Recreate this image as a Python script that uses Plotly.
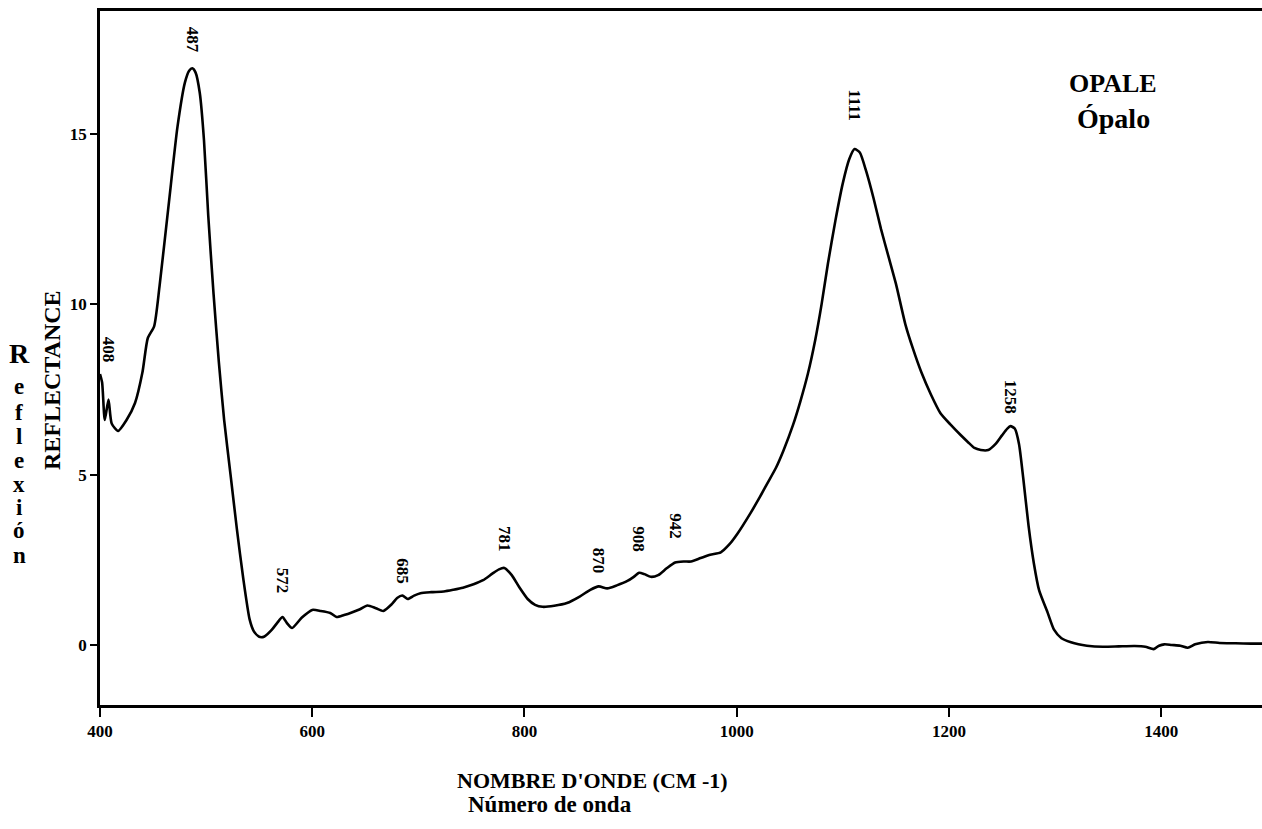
import plotly.graph_objects as go

# Reflectance spectrum of opal (wavenumber in cm-1, reflectance in %)
wavenumber = [
    400, 402, 404.5, 408, 411, 417, 425, 433, 440, 445, 451, 456, 465, 473, 480,
    484, 487, 490, 494, 498, 502, 507, 512, 517, 523, 529, 535, 541, 545, 550,
    555, 562, 567, 572, 576, 581, 590, 600, 608, 617, 623, 630, 636, 645, 652,
    660, 667, 675, 680, 685, 690, 696, 702, 712, 724, 733, 742, 752, 761, 770,
    776, 781, 788, 795, 803, 810, 817, 828, 840, 852, 862, 870, 878, 887, 897,
    903, 908, 913, 919, 926, 934, 942, 950, 957, 966, 975, 985, 993, 1001, 1013,
    1022, 1029, 1037, 1044, 1053, 1060, 1067, 1074, 1080, 1086, 1093, 1100, 1106,
    1111, 1116, 1122, 1129, 1136, 1143, 1150, 1159, 1166, 1174, 1183, 1192, 1202,
    1211, 1218, 1224, 1230, 1237, 1244, 1250, 1255, 1258, 1262, 1266, 1270, 1275,
    1280, 1285, 1293, 1299, 1306, 1315, 1322, 1330, 1345, 1360, 1375, 1385, 1393,
    1398, 1403, 1410, 1418, 1425, 1432, 1444, 1455, 1470, 1485, 1495,
]
reflectance = [
    7.95, 7.7, 6.6, 7.2, 6.5, 6.28, 6.6, 7.1, 8.0, 9.0, 9.35, 10.5, 13.0, 15.2, 16.5,
    16.85, 16.92, 16.8, 16.2, 14.8, 12.6, 10.3, 8.3, 6.6, 5.0, 3.4, 1.95, 0.75, 0.4, 0.24,
    0.25, 0.45, 0.65, 0.82, 0.65, 0.5, 0.8, 1.03, 1.0, 0.94, 0.82, 0.88, 0.94, 1.05, 1.16,
    1.08, 1.0, 1.2, 1.38, 1.45, 1.35, 1.45, 1.52, 1.55, 1.57, 1.62, 1.68, 1.78, 1.9, 2.1,
    2.22, 2.26, 2.05, 1.7, 1.35, 1.18, 1.12, 1.15, 1.23, 1.42, 1.62, 1.72, 1.66, 1.75, 1.88,
    2.0, 2.12, 2.08, 2.0, 2.05, 2.25, 2.42, 2.45, 2.45, 2.55, 2.65, 2.72, 2.95, 3.28, 3.87,
    4.35, 4.75, 5.2, 5.7, 6.45, 7.15, 7.95, 8.95, 10.0, 11.2, 12.45, 13.55, 14.25,
    14.55, 14.45, 13.9, 13.1, 12.2, 11.4, 10.6, 9.4, 8.7, 8.0, 7.35, 6.8, 6.45,
    6.16, 5.95, 5.78, 5.72, 5.72, 5.9, 6.15, 6.35, 6.42, 6.35, 5.9, 4.9, 3.5,
    2.4, 1.6, 0.95, 0.45, 0.2, 0.08, 0.02, -0.02, -0.05, -0.04, -0.03, -0.05, -0.12,
    -0.02, 0.02, 0.0, -0.02, -0.08, 0.02, 0.09, 0.06, 0.05, 0.04, 0.04,
]

# Band positions marked above the curve and the height of each label's centre
peak_labels = ["408", "487", "572", "685", "781", "870", "908", "942", "1111", "1258"]
peak_positions = [408, 487, 572, 685, 781, 870, 908, 942, 1111, 1258]
label_heights = [8.65, 17.75, 1.9, 2.15, 3.1, 2.48, 3.1, 3.48, 15.84, 7.3]

x_ticks = [400, 600, 800, 1000, 1200, 1400]
y_ticks = [0, 5, 10, 15]

SERIF = "Liberation Serif"

# Plot-area geometry in pixels, used to place the paper-anchored texts
L, T, W, H, FIG_H = 100, 11, 1162, 694, 829


def px(xp):
    return (xp - L) / W


def py(yp):
    return (T + H - yp) / H


fig = go.Figure()
fig.add_trace(go.Scatter(
    x=wavenumber, y=reflectance, mode="lines",
    line=dict(color="black", width=2.6, shape="spline", smoothing=0.6),
    hoverinfo="skip", showlegend=False,
))

annotations = []
for text, xv, yv in zip(peak_labels, peak_positions, label_heights):
    annotations.append(dict(
        x=xv, y=yv, xref="x", yref="y", text=f"<b>{text}</b>", textangle=90,
        showarrow=False, xanchor="center", yanchor="middle",
        font=dict(family=SERIF, size=17, color="black"),
    ))

# Sample name
annotations += [
    dict(xref="paper", yref="paper", x=px(1113), y=py(83),
         text="<b>OPALE</b>", showarrow=False, xanchor="center", yanchor="middle",
         font=dict(family=SERIF, size=26, color="black")),
    dict(xref="paper", yref="paper", x=px(1113), y=py(119),
         text="<b>Ópalo</b>", showarrow=False, xanchor="center", yanchor="middle",
         font=dict(family=SERIF, size=28, color="black")),
]

# Axis titles (French and Spanish)
annotations += [
    dict(xref="paper", yref="paper", x=px(592), y=py(780),
         text="<b>NOMBRE D'ONDE (CM -1)</b>", showarrow=False,
         xanchor="center", yanchor="middle",
         font=dict(family=SERIF, size=22, color="black")),
    dict(xref="paper", yref="paper", x=px(550), y=py(804),
         text="<b>Número de onda</b>", showarrow=False,
         xanchor="center", yanchor="middle",
         font=dict(family=SERIF, size=23, color="black")),
    dict(xref="paper", yref="paper", x=px(52), y=py(380),
         text="<b>REFLECTANCE</b>", textangle=-90, showarrow=False,
         xanchor="center", yanchor="middle",
         font=dict(family=SERIF, size=24, color="black")),
]
letter_rows = [353, 386, 412, 436, 460, 484, 507, 530, 555]
for ch, row in zip("Reflexión", letter_rows):
    annotations.append(dict(
        xref="paper", yref="paper", x=px(19), y=py(row),
        text=f"<b>{ch}</b>", showarrow=False, xanchor="center", yanchor="middle",
        font=dict(family=SERIF, size=28 if ch == "R" else 23, color="black"),
    ))

fig.update_layout(
    width=1262, height=FIG_H,
    margin=dict(l=L, r=0, t=T, b=FIG_H - T - H),
    paper_bgcolor="white", plot_bgcolor="white",
    annotations=annotations,
    xaxis=dict(
        range=[400, 1495], tickvals=x_ticks, ticktext=[str(v) for v in x_ticks],
        showgrid=False, zeroline=False, showline=True, linecolor="black", linewidth=2.5,
        mirror=True, ticks="outside", ticklen=9, tickwidth=2, tickcolor="black",
        tickfont=dict(family=SERIF, size=17, color="black", weight="bold"),
    ),
    yaxis=dict(
        range=[-1.76, 18.6], tickvals=y_ticks, ticktext=[str(v) for v in y_ticks],
        showgrid=False, zeroline=False, showline=True, linecolor="black", linewidth=2.5,
        ticks="outside", ticklen=7, tickwidth=2, tickcolor="black",
        tickfont=dict(family=SERIF, size=17, color="black", weight="bold"),
    ),
)

fig.write_html("out.html")
